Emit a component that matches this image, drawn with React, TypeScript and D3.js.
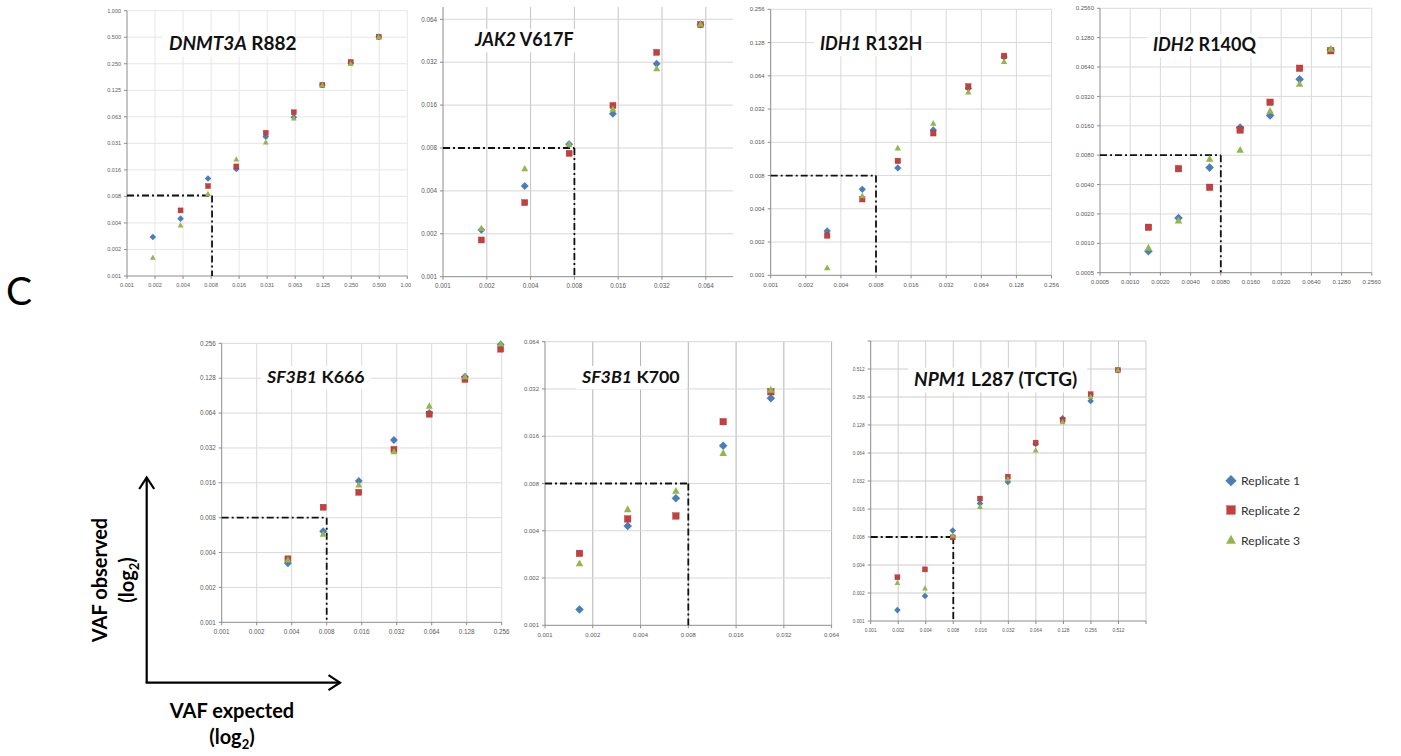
import React from "react";
import * as d3 from "d3";

// ---------- shared ----------
const REPLICATE_NAMES = ["Replicate 1", "Replicate 2", "Replicate 3"];
const REPLICATE_COLORS = ["#4a7ebb", "#c3403e", "#94b64a"];
const LIMIT_OF_DETECTION = 0.008;

// ---------- DNMT3A R882 ----------
const dnmt3aExpected = [0.00185, 0.00367, 0.00724, 0.01458, 0.0302, 0.0604, 0.1224, 0.2466, 0.493];
const dnmt3aRep1 = [0.00271, 0.00437, 0.01245, 0.016, 0.0372, 0.062, 0.1436, 0.255, 0.507];
const dnmt3aRep2 = [null, 0.00542, 0.01024, 0.0171, 0.0412, 0.0704, 0.1436, 0.262, 0.507];
const dnmt3aRep3 = [0.00158, 0.00367, 0.00834, 0.0206, 0.0322, 0.06, 0.1436, 0.25, 0.507];
const dnmt3aAxisMin = 0.0009765625;
const dnmt3aTickLabels = ["0.001", "0.002", "0.004", "0.008", "0.016", "0.031", "0.063", "0.125", "0.250", "0.500", "1.000"];

// ---------- JAK2 V617F ----------
const jak2Expected = [0.001835, 0.003645, 0.00736, 0.01472, 0.0294, 0.0589];
const jak2Rep1 = [0.00213, 0.00433, 0.0085, 0.0139, 0.0312, 0.0589];
const jak2Rep2 = [0.00181, 0.00331, 0.00734, 0.0159, 0.0375, 0.0589];
const jak2Rep3 = [0.00218, 0.00573, 0.00853, 0.015, 0.0288, 0.0592];
const jak2AxisMin = 0.001;
const jak2TickLabels = ["0.001", "0.002", "0.004", "0.008", "0.016", "0.032", "0.064"];

// ---------- IDH1 R132H ----------
const idh1Expected = [0.00305, 0.0061, 0.0123, 0.0248, 0.0495, 0.1004];
const idh1Rep1 = [0.00252, 0.00601, 0.00938, 0.0207, 0.0493, 0.0945];
const idh1Rep2 = [0.00229, 0.00488, 0.01085, 0.0193, 0.0513, 0.097];
const idh1Rep3 = [0.00117, 0.00524, 0.01422, 0.0238, 0.0456, 0.0861];
const idh1AxisMin = 0.001;
const idh1TickLabels = ["0.001", "0.002", "0.004", "0.008", "0.016", "0.032", "0.064", "0.128", "0.256"];

// ---------- IDH2 R140Q ----------
const idh2Expected = [0.00152, 0.00303, 0.00619, 0.01247, 0.0248, 0.0488, 0.0997];
const idh2Rep1 = [0.00083, 0.00182, 0.00597, 0.01532, 0.0204, 0.0479, 0.0958];
const idh2Rep2 = [0.00146, 0.00582, 0.00375, 0.0145, 0.0279, 0.0622, 0.094];
const idh2Rep3 = [0.0009, 0.00171, 0.00731, 0.00905, 0.0227, 0.0429, 0.098];
const idh2AxisMin = 0.0005;
const idh2TickLabels = ["0.0005", "0.0010", "0.0020", "0.0040", "0.0080", "0.0160", "0.0320", "0.0640", "0.1280", "0.2560"];

// ---------- SF3B1 K666 ----------
const k666Expected = [0.00371, 0.00746, 0.0151, 0.0303, 0.061, 0.1236, 0.2507];
const k666Rep1 = [0.00323, 0.0061, 0.01659, 0.0375, 0.064, 0.132, 0.25];
const k666Rep2 = [0.00353, 0.00985, 0.01326, 0.0311, 0.0626, 0.125, 0.228];
const k666Rep3 = [0.00346, 0.00578, 0.01533, 0.0297, 0.0737, 0.132, 0.253];
const k666AxisMin = 0.001;
const k666TickLabels = ["0.001", "0.002", "0.004", "0.008", "0.016", "0.032", "0.064", "0.128", "0.256"];

// ---------- SF3B1 K700 ----------
const k700Expected = [0.00165, 0.00332, 0.00668, 0.01327, 0.0265];
const k700Rep1 = [0.00126, 0.00429, 0.00644, 0.0139, 0.0279];
const k700Rep2 = [0.00287, 0.00476, 0.00497, 0.0198, 0.0307];
const k700Rep3 = [0.00248, 0.00548, 0.00717, 0.0125, 0.0316];
const k700AxisMin = 0.001;
const k700TickLabels = ["0.001", "0.002", "0.004", "0.008", "0.016", "0.032", "0.064"];

// ---------- NPM1 L287 (TCTG) ----------
const npm1Expected = [0.00196, 0.00392, 0.00789, 0.01567, 0.0316, 0.0636, 0.1254, 0.254, 0.505];
const npm1Rep1 = [0.00131, 0.00186, 0.00937, 0.0183, 0.0312, 0.08, 0.151, 0.232, 0.498];
const npm1Rep2 = [0.00295, 0.00359, 0.00793, 0.0207, 0.0356, 0.0827, 0.145, 0.274, 0.498];
const npm1Rep3 = [0.00258, 0.00225, 0.0083, 0.0169, 0.0336, 0.0684, 0.138, 0.258, 0.498];
const npm1AxisMin = 0.001;
const npm1TickLabels = ["0.001", "0.002", "0.004", "0.008", "0.016", "0.032", "0.064", "0.128", "0.256", "0.512", ""];

type Layout = {
  left: number; bottom: number; xStep: number; yStep: number;
  plotRight: number; plotTop: number;
  clip: [number, number, number, number];
  titleX: number; titleY: number; titleSize: number;
  marker: number; labelSize: number;
  gridV: string; gridH: string;
};

type Panel = {
  id: string; gene: string; variant: string;
  expected: number[]; reps: (number | null)[][];
  axisMin: number; tickLabels: string[];
  layout: Layout;
};

const panels: Panel[] = [
  {
    id: "dnmt3a", gene: "DNMT3A", variant: " R882",
    expected: dnmt3aExpected, reps: [dnmt3aRep1, dnmt3aRep2, dnmt3aRep3],
    axisMin: dnmt3aAxisMin, tickLabels: dnmt3aTickLabels,
    layout: { left: 127, bottom: 276, xStep: 28.03, yStep: 26.53, plotRight: 407.3, plotTop: 10.7,
      clip: [86, 0, 411, 300], titleX: 169, titleY: 50, titleSize: 19, marker: 5, labelSize: 5.5,
      gridV: "#e6e6e6", gridH: "#e6e6e6" },
  },
  {
    id: "jak2", gene: "JAK2", variant: " V617F",
    expected: jak2Expected, reps: [jak2Rep1, jak2Rep2, jak2Rep3],
    axisMin: jak2AxisMin, tickLabels: jak2TickLabels,
    layout: { left: 443, bottom: 276.7, xStep: 43.8, yStep: 42.9, plotRight: 733, plotTop: 7,
      clip: [411, 0, 734, 300], titleX: 475, titleY: 46, titleSize: 18, marker: 6, labelSize: 6.3,
      gridV: "#c4c4c4", gridH: "#d6d6d6" },
  },
  {
    id: "idh1", gene: "IDH1", variant: " R132H",
    expected: idh1Expected, reps: [idh1Rep1, idh1Rep2, idh1Rep3],
    axisMin: idh1AxisMin, tickLabels: idh1TickLabels,
    layout: { left: 770.7, bottom: 275.3, xStep: 35.1, yStep: 33.25, plotRight: 1051.5, plotTop: 9.3,
      clip: [735, 0, 1062, 300], titleX: 820, titleY: 50, titleSize: 18, marker: 5.5, labelSize: 6,
      gridV: "#dadada", gridH: "#dadada" },
  },
  {
    id: "idh2", gene: "IDH2", variant: " R140Q",
    expected: idh2Expected, reps: [idh2Rep1, idh2Rep2, idh2Rep3],
    axisMin: idh2AxisMin, tickLabels: idh2TickLabels,
    layout: { left: 1100, bottom: 272.7, xStep: 30.2, yStep: 29.38, plotRight: 1371.8, plotTop: 8.3,
      clip: [1062, 0, 1401, 300], titleX: 1153, titleY: 51, titleSize: 18, marker: 6.5, labelSize: 6,
      gridV: "#dadada", gridH: "#dadada" },
  },
  {
    id: "k666", gene: "SF3B1", variant: " K666",
    expected: k666Expected, reps: [k666Rep1, k666Rep2, k666Rep3],
    axisMin: k666AxisMin, tickLabels: k666TickLabels,
    layout: { left: 221.7, bottom: 622.3, xStep: 35.0, yStep: 34.87, plotRight: 501.7, plotTop: 343.3,
      clip: [190, 330, 514, 645], titleX: 267, titleY: 383, titleSize: 17.8, marker: 6, labelSize: 6.3,
      gridV: "#dadada", gridH: "#dadada" },
  },
  {
    id: "k700", gene: "SF3B1", variant: " K700",
    expected: k700Expected, reps: [k700Rep1, k700Rep2, k700Rep3],
    axisMin: k700AxisMin, tickLabels: k700TickLabels,
    layout: { left: 545, bottom: 625.3, xStep: 47.77, yStep: 47.27, plotRight: 831.6, plotTop: 341.7,
      clip: [514, 330, 840, 645], titleX: 582, titleY: 383, titleSize: 17.8, marker: 6.5, labelSize: 6,
      gridV: "#b4b4b4", gridH: "#d8d8d8" },
  },
  {
    id: "npm1", gene: "NPM1", variant: " L287 (TCTG)",
    expected: npm1Expected, reps: [npm1Rep1, npm1Rep2, npm1Rep3],
    axisMin: npm1AxisMin, tickLabels: npm1TickLabels,
    layout: { left: 870.7, bottom: 621, xStep: 27.53, yStep: 28, plotRight: 1146, plotTop: 341,
      clip: [840, 330, 1150, 645], titleX: 914, titleY: 385.7, titleSize: 19, marker: 5, labelSize: 4.8,
      gridV: "#cdcdcd", gridH: "#cdcdcd" },
  },
];

// Excel-style marker shapes: 0 = diamond, 1 = square, 2 = triangle
function Marker({ kind, x, y, s, color }: { kind: number; x: number; y: number; s: number; color: string }) {
  if (kind === 0) {
    const r = s * 0.66;
    return <path d={`M${x},${y - r}L${x + r},${y}L${x},${y + r}L${x - r},${y}Z`} fill={color} />;
  }
  if (kind === 1) {
    return <rect x={x - s / 2} y={y - s / 2} width={s} height={s} fill={color} stroke="#a8302e" strokeWidth={0.4} />;
  }
  const h = s * 1.05;
  return (
    <path
      d={`M${x},${y - h * 0.58}L${x + s * 0.58},${y + h * 0.42}L${x - s * 0.58},${y + h * 0.42}Z`}
      fill={color}
    />
  );
}

function ScatterPanel({ p }: { p: Panel }) {
  const L = p.layout;
  const n = p.tickLabels.length - 1;
  const x = d3.scaleLog().base(2).domain([p.axisMin, p.axisMin * 2 ** n]).range([L.left, L.left + n * L.xStep]);
  const y = d3.scaleLog().base(2).domain([p.axisMin, p.axisMin * 2 ** n]).range([L.bottom, L.bottom - n * L.yStep]);
  const ticks = d3.range(p.tickLabels.length).map((i) => p.axisMin * 2 ** i);
  const [cx0, cy0, cx1, cy1] = L.clip;
  const clipId = `clip-${p.id}`;
  const axisColor = "#8c8c8c";
  const labelColor = "#5a5a5a";
  const titleW = (p.gene.length + p.variant.length) * L.titleSize * 0.55;
  const lodX = x(LIMIT_OF_DETECTION);
  const lodY = y(LIMIT_OF_DETECTION);

  return (
    <g>
      <defs>
        <clipPath id={clipId}>
          <rect x={cx0} y={cy0} width={cx1 - cx0} height={cy1 - cy0} />
        </clipPath>
      </defs>
      <g clipPath={`url(#${clipId})`}>
        {/* gridlines */}
        {ticks.map((t, i) =>
          i > 0 && x(t) <= L.plotRight + 0.5 ? (
            <line key={`gv${i}`} x1={x(t)} x2={x(t)} y1={L.plotTop} y2={L.bottom} stroke={L.gridV} strokeWidth={1} />
          ) : null
        )}
        {ticks.map((t, i) =>
          i > 0 && y(t) >= L.plotTop - 0.5 ? (
            <line key={`gh${i}`} x1={L.left} x2={L.plotRight} y1={y(t)} y2={y(t)} stroke={L.gridH} strokeWidth={1} />
          ) : null
        )}
        {/* title with white backing box */}
        <rect
          x={L.titleX - 6}
          y={L.titleY - L.titleSize * 0.95}
          width={titleW + 12}
          height={L.titleSize * 1.3}
          fill="#ffffff"
        />
        <text x={L.titleX} y={L.titleY} fontFamily="Lato, 'Open Sans', sans-serif" fontWeight={700} fontSize={L.titleSize} fill="#111">
          <tspan fontStyle="italic">{p.gene}</tspan>
          <tspan>{p.variant}</tspan>
        </text>
        {/* axes */}
        <line x1={L.left} x2={L.left} y1={L.plotTop} y2={L.bottom} stroke={axisColor} strokeWidth={1} />
        <line x1={L.left} x2={L.plotRight} y1={L.bottom} y2={L.bottom} stroke={axisColor} strokeWidth={1} />
        {ticks.map((t, i) =>
          x(t) <= L.plotRight + 0.5 ? (
            <g key={`xt${i}`}>
              <line x1={x(t)} x2={x(t)} y1={L.bottom} y2={L.bottom + 3} stroke={axisColor} />
              <text
                x={x(t)}
                y={L.bottom + 7 + L.labelSize * 0.75}
                textAnchor="middle"
                fontFamily="'Liberation Sans', Arial, sans-serif"
                fontSize={L.labelSize}
                fill={labelColor}
              >
                {p.tickLabels[i]}
              </text>
            </g>
          ) : null
        )}
        {ticks.map((t, i) =>
          y(t) >= L.plotTop - 0.5 ? (
            <g key={`yt${i}`}>
              <line x1={L.left - 3} x2={L.left} y1={y(t)} y2={y(t)} stroke={axisColor} />
              <text
                x={L.left - 6}
                y={y(t) + L.labelSize * 0.35}
                textAnchor="end"
                fontFamily="'Liberation Sans', Arial, sans-serif"
                fontSize={L.labelSize}
                fill={labelColor}
              >
                {p.tickLabels[i]}
              </text>
            </g>
          ) : null
        )}
        {/* limit-of-detection guides */}
        <line x1={L.left} x2={lodX} y1={lodY} y2={lodY} stroke="#111" strokeWidth={1.8} strokeDasharray="7 3 2 3" />
        <line x1={lodX} x2={lodX} y1={lodY} y2={L.bottom} stroke="#111" strokeWidth={1.8} strokeDasharray="7 3 2 3" />
        {/* replicate markers */}
        {p.reps.map((rep, r) =>
          rep.map((v, i) =>
            v == null ? null : (
              <Marker key={`m${r}-${i}`} kind={r} x={x(p.expected[i])} y={y(v)} s={L.marker} color={REPLICATE_COLORS[r]} />
            )
          )
        )}
      </g>
    </g>
  );
}

function Legend() {
  const rowsY = [480.7, 510, 540];
  return (
    <g>
      {REPLICATE_NAMES.map((name, i) => (
        <g key={name}>
          <Marker kind={i} x={1231} y={rowsY[i]} s={8.5} color={REPLICATE_COLORS[i]} />
          <text x={1241} y={rowsY[i] + 4.5} fontFamily="Lato, 'Open Sans', sans-serif" fontSize={12.2} fill="#333">
            {name}
          </text>
        </g>
      ))}
    </g>
  );
}

function AxisKey() {
  const ox = 146.7;
  const oy = 682.7;
  const font = "Lato, 'Open Sans', sans-serif";
  return (
    <g>
      <line x1={ox} x2={ox} y1={477.5} y2={oy} stroke="#000" strokeWidth={2.2} />
      <line x1={ox - 1.1} x2={340} y1={oy} y2={oy} stroke="#000" strokeWidth={2.2} />
      <polyline points={`${ox - 7.5},${489} ${ox},${477.5} ${ox + 7.5},${489}`} fill="none" stroke="#000" strokeWidth={2.2} />
      <polyline points={`${328.5},${oy - 7.5} ${340},${oy} ${328.5},${oy + 7.5}`} fill="none" stroke="#000" strokeWidth={2.2} />
      <text transform="translate(107,580) rotate(-90)" textAnchor="middle" fontFamily={font} fontWeight={700} fontSize={20} fill="#000">
        VAF observed
      </text>
      <text transform="translate(134,580) rotate(-90)" textAnchor="middle" fontFamily={font} fontWeight={700} fontSize={20} fill="#000">
        (log<tspan fontSize={13} dy={5}>2</tspan><tspan dy={-5}>)</tspan>
      </text>
      <text x={232} y={718} textAnchor="middle" fontFamily={font} fontWeight={700} fontSize={20} fill="#000">
        VAF expected
      </text>
      <text x={232} y={744} textAnchor="middle" fontFamily={font} fontWeight={700} fontSize={20} fill="#000">
        (log<tspan fontSize={13} dy={5}>2</tspan><tspan dy={-5}>)</tspan>
      </text>
    </g>
  );
}

export default function App() {
  return (
    <div style={{ position: "absolute", left: 0, top: 0, width: 1401, height: 756, background: "#fff" }}>
      <svg width={1401} height={756} viewBox="0 0 1401 756" style={{ display: "block" }}>
        <rect width={1401} height={756} fill="#fff" />
        <text x={6} y={305} fontFamily="Lato, 'Open Sans', sans-serif" fontSize={39} fill="#000">
          C
        </text>
        {panels.map((p) => (
          <ScatterPanel key={p.id} p={p} />
        ))}
        <Legend />
        <AxisKey />
      </svg>
    </div>
  );
}
